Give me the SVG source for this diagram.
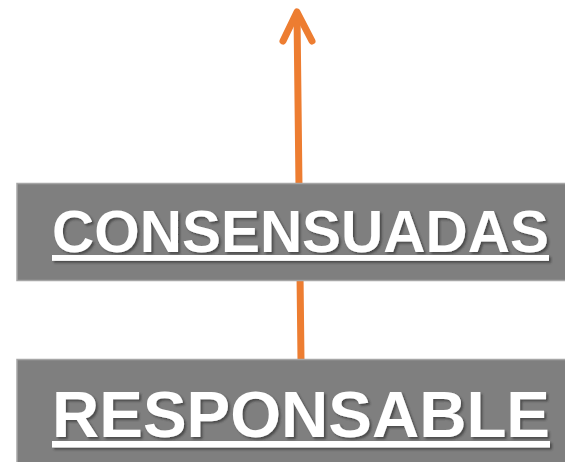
<svg xmlns="http://www.w3.org/2000/svg" width="565" height="462" viewBox="0 0 565 462">
<defs>
<filter id="shadow" x="-5%" y="-20%" width="110%" height="140%">
<feDropShadow dx="2" dy="2" stdDeviation="1" flood-color="#333333" flood-opacity="0.7"/>
</filter>
</defs>
<style>
.box{fill:#7f7f7f;stroke:#a6a6a6;stroke-width:1.5}
.lbl{font-family:"Liberation Sans",Arial,sans-serif;font-weight:bold;fill:#ffffff;text-decoration:underline;filter:url(#shadow)}
.conn{stroke:#ed7d31;stroke-width:7;fill:none;stroke-linecap:round;stroke-linejoin:round}
</style>
<rect width="565" height="462" fill="#ffffff"/>
<g id="connectors">
<line class="conn" x1="301" y1="360" x2="297" y2="14"/>
<polyline class="conn" points="283,41 297,12 312,41"/>
</g>
<g id="node-consensuadas">
<rect class="box" x="17" y="183.5" width="560" height="97"/>
<text class="lbl" x="52" y="252" font-size="58.5" textLength="497" lengthAdjust="spacingAndGlyphs">CONSENSUADAS</text>
</g>
<g id="node-responsable">
<rect class="box" x="17" y="359.5" width="560" height="110"/>
<text class="lbl" x="52" y="437" font-size="65.5" textLength="498" lengthAdjust="spacingAndGlyphs">RESPONSABLE</text>
</g>
</svg>
